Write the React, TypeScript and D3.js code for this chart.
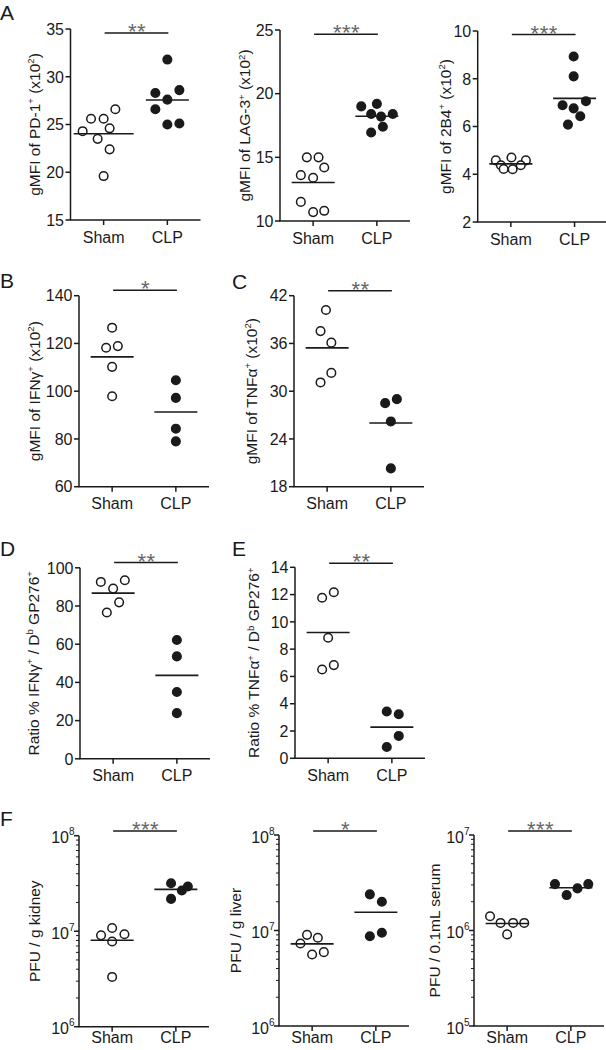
import React from 'react';
import * as d3 from 'd3';

const GROUPS = ['Sham', 'CLP'];

// ---------- data ----------
const pd1Sham = [25.6, 25.6, 26.6, 24.3, 23.5, 24.6, 22.4, 19.6];
const pd1Clp = [31.8, 28.3, 28.6, 27.6, 26.6, 25.0, 25.1];
const lag3Sham = [15.0, 15.0, 13.6, 13.4, 14.2, 11.5, 10.7, 10.8];
const lag3Clp = [19.0, 19.2, 18.4, 18.2, 18.4, 16.95, 17.4];
const b4Sham = [4.58, 4.7, 4.58, 4.375, 4.21, 4.375, 4.22];
const b4Clp = [8.93, 8.1, 6.89, 6.76, 7.06, 6.43, 6.08];
const ifngSham = [126.6, 118.2, 118.9, 110.2, 97.9];
const ifngClp = [104.6, 97.2, 84.3, 79.0];
const tnfSham = [40.2, 37.55, 36.1, 32.3, 31.1];
const tnfClp = [28.5, 29.0, 26.2, 20.3];
const ratioIfnSham = [92.6, 89.1, 93.5, 76.6, 81.9];
const ratioIfnClp = [62.2, 53.6, 35.0, 23.9];
const ratioTnfSham = [11.77, 12.17, 8.84, 6.51, 6.83];
const ratioTnfClp = [3.43, 3.23, 1.64, 0.83];
const kidneySham = [9.05e6, 1.08e7, 9.3e6, 7.8e6, 3.32e6];
const kidneyClp = [3.18e7, 2.18e7, 2.67e7, 2.94e7];
const liverSham = [7.3e6, 9.0e6, 8.4e6, 5.6e6, 5.93e6];
const liverClp = [2.39e7, 2.0e7, 8.7e6, 9.46e6];
const serumSham = [1.41e6, 1.2e6, 1.2e6, 1.2e6, 0.91e6];
const serumClp = [3.06e6, 2.35e6, 2.76e6, 3.06e6];

// horizontal scatter of the dots (in dot-step units)
const pd1JitSham = [-2.1, 0, 1.95, -3.5, -1, 1, 1, 0];
const pd1JitClp = [0, -2, 2, 0, -2, 0, 2];
const lag3JitSham = [-1.05, 0.9, -2.05, 0, 1.85, -2.05, 0, 1.85];
const lag3JitClp = [-2.6, 0, -0.95, 0.7, 2.65, -0.95, 1];
const b4JitSham = [-2.5, 0.1, 2.5, -1.65, 0.3, 1.65, -1.2];
const b4JitClp = [-0.15, -0.15, -2, -0.15, 1.9, 0.95, -1.1];
const ifngJitSham = [0, -1, 0.95, 0, 0];
const ifngJitClp = [0, 0, 0, 0];
const tnfJitSham = [-0.2, -1.1, 0.7, 0.7, -1.1];
const tnfJitClp = [-0.95, 1, 0, 0];
const ratioIfnJitSham = [-2.05, 0, 1.95, -1.05, 1];
const ratioIfnJitClp = [0, 0, 0, 0];
const ratioTnfJitSham = [-1, 0.95, 0, -1, 0.95];
const ratioTnfJitClp = [-0.85, 1.15, 1.15, -0.85];
const kidneyJitSham = [-1.85, 0, 2.05, 0, 0];
const kidneyJitClp = [-0.8, -0.8, 1, 2];
const liverJitSham = [-1.95, -0.85, 0.95, 0, 1.95];
const liverJitClp = [-1, 1, -1, 1];
const serumJitSham = [-2.85, -1.1, 1, 2.85, 0];
const serumJitClp = [-2.65, -0.7, 1.1, 2.9];

// tick values
const pd1Ticks = [15, 20, 25, 30, 35];
const lag3Ticks = [10, 15, 20, 25];
const b4Ticks = [2, 4, 6, 8, 10];
const ifngTicks = [60, 80, 100, 120, 140];
const tnfTicks = [18, 24, 30, 36, 42];
const ratioIfnTicks = [0, 20, 40, 60, 80, 100];
const ratioTnfTicks = [0, 2, 4, 6, 8, 10, 12, 14];

const stars = ['**', '***', '***', '*', '**', '**', '**', '***', '*', '***'];

const yLabels = [
  'gMFI of PD-1^{+} (x10^{2})',
  'gMFI of LAG-3^{+} (x10^{2})',
  'gMFI of 2B4^{+} (x10^{2})',
  'gMFI of IFNγ^{+} (x10^{2})',
  'gMFI of TNFα^{+} (x10^{2})',
  'Ratio % IFNγ^{+} / D^{b} GP276^{+}',
  'Ratio % TNFα^{+} / D^{b} GP276^{+}',
  'PFU / g kidney',
  'PFU / g liver',
  'PFU / 0.1mL serum',
];

// ---------- layout ----------
const PW = 130;
const PH = 191;
const DOT_STEP = 6;
const R = 4.3;
const FONT = '"Liberation Sans", Arial, Helvetica, sans-serif';
const TICK_FS = 16;
const LABEL_FS = 15.5;

type Panel = {
  x0: number; y0: number; domain: [number, number]; ticks?: number[]; log?: boolean;
  sham: number[]; clp: number[]; js: number[]; jc: number[];
  label: string; labelX: number; star: string; sigDy: number; shamHW?: number; xlabDy?: number;
};

const panels: Panel[] = [
  { x0: 70.5, y0: 29, domain: [15, 35], ticks: pd1Ticks, sham: pd1Sham, clp: pd1Clp, js: pd1JitSham, jc: pd1JitClp, label: yLabels[0], labelX: 34, star: stars[0], sigDy: 4, shamHW: 30 },
  { x0: 280, y0: 30, domain: [10, 25], ticks: lag3Ticks, sham: lag3Sham, clp: lag3Clp, js: lag3JitSham, jc: lag3JitClp, label: yLabels[1], labelX: 244.5, star: stars[1], sigDy: 4.3 },
  { x0: 477.7, y0: 31, domain: [2, 10], ticks: b4Ticks, sham: b4Sham, clp: b4Clp, js: b4JitSham, jc: b4JitClp, label: yLabels[2], labelX: 445, star: stars[2], sigDy: 3.5 },
  { x0: 79, y0: 295.7, domain: [60, 140], ticks: ifngTicks, sham: ifngSham, clp: ifngClp, js: ifngJitSham, jc: ifngJitClp, label: yLabels[3], labelX: 34, star: stars[3], sigDy: -5.5 },
  { x0: 294, y0: 295.7, domain: [18, 42], ticks: tnfTicks, sham: tnfSham, clp: tnfClp, js: tnfJitSham, jc: tnfJitClp, label: yLabels[4], labelX: 251, star: stars[4], sigDy: -5 },
  { x0: 80, y0: 567.8, domain: [0, 100], ticks: ratioIfnTicks, sham: ratioIfnSham, clp: ratioIfnClp, js: ratioIfnJitSham, jc: ratioIfnJitClp, label: yLabels[5], labelX: 33, star: stars[5], sigDy: -5.3 },
  { x0: 295, y0: 567.3, domain: [0, 14], ticks: ratioTnfTicks, sham: ratioTnfSham, clp: ratioTnfClp, js: ratioTnfJitSham, jc: ratioTnfJitClp, label: yLabels[6], labelX: 253.5, star: stars[6], sigDy: -4 },
  { x0: 79, y0: 835.7, domain: [1e6, 1e8], log: true, sham: kidneySham, clp: kidneyClp, js: kidneyJitSham, jc: kidneyJitClp, label: yLabels[7], labelX: 34, star: stars[7], sigDy: -4.7, xlabDy: 16.5 },
  { x0: 279, y0: 835, domain: [1e6, 1e8], log: true, sham: liverSham, clp: liverClp, js: liverJitSham, jc: liverJitClp, label: yLabels[8], labelX: 235.5, star: stars[8], sigDy: -4, xlabDy: 17 },
  { x0: 474, y0: 835, domain: [1e5, 1e7], log: true, sham: serumSham, clp: serumClp, js: serumJitSham, jc: serumJitClp, label: yLabels[9], labelX: 434.5, star: stars[9], sigDy: -4, xlabDy: 17 },
];

const letters = [
  { t: 'A', x: 0, y: 20 },
  { t: 'B', x: 0, y: 288 },
  { t: 'C', x: 232, y: 289 },
  { t: 'D', x: 0, y: 556 },
  { t: 'E', x: 232, y: 556 },
  { t: 'F', x: 0, y: 826 },
];

function parseLabel(s: string) {
  const segs: { t: string; sup: boolean }[] = [];
  const re = /\^\{([^}]*)\}/g;
  let last = 0;
  let m: RegExpExecArray | null;
  while ((m = re.exec(s))) {
    if (m.index > last) segs.push({ t: s.slice(last, m.index), sup: false });
    segs.push({ t: m[1], sup: true });
    last = m.index + m[0].length;
  }
  if (last < s.length) segs.push({ t: s.slice(last), sup: false });
  return segs;
}

const INK = '#1a1a1a';

function PanelView({ p }: { p: Panel }) {
  const x = d3.scalePoint<string>().domain(GROUPS).range([p.x0, p.x0 + PW]).padding(0.52);
  const yb = p.y0 + PH;
  const y: any = p.log
    ? d3.scaleLog().domain(p.domain).range([yb, p.y0])
    : d3.scaleLinear().domain(p.domain).range([yb, p.y0]);
  const segs = parseLabel(p.label);
  const cy = p.y0 + PH / 2;
  const xs = x('Sham')!;
  const xc = x('CLP')!;
  const sigY = p.y0 + p.sigDy;

  const majors: number[] = p.log
    ? d3.range(Math.log10(p.domain[0]), Math.log10(p.domain[1]) + 1).map((e) => Math.pow(10, e))
    : p.ticks!;
  const minors: number[] = [];
  if (p.log) {
    for (let e = Math.log10(p.domain[0]); e < Math.log10(p.domain[1]); e++) {
      for (let k = 2; k <= 9; k++) minors.push(k * Math.pow(10, e));
    }
  }

  const groups = [
    { g: 'Sham', vals: p.sham, jit: p.js, open: true, hw: p.shamHW ?? 21.5 },
    { g: 'CLP', vals: p.clp, jit: p.jc, open: false, hw: 21.5 },
  ];

  return (
    <g>
      {/* axes */}
      <line x1={p.x0} x2={p.x0} y1={p.y0} y2={yb} stroke={INK} strokeWidth={1.5} />
      <line x1={p.x0 - 0.75} x2={p.x0 + PW} y1={yb} y2={yb} stroke={INK} strokeWidth={1.5} />
      {majors.map((v) => (
        <g key={'t' + v}>
          <line x1={p.x0 - 5} x2={p.x0} y1={y(v)} y2={y(v)} stroke={INK} strokeWidth={1.5} />
          {p.log ? (
            <text x={p.x0 - 4.5} y={y(v) + 7.5} textAnchor="end" fontSize={TICK_FS} fill={INK}>
              10<tspan dy={-8} fontSize={10}>{Math.round(Math.log10(v))}</tspan>
            </text>
          ) : (
            <text x={p.x0 - 6.5} y={y(v)} dy="0.36em" textAnchor="end" fontSize={TICK_FS} fill={INK}>{v}</text>
          )}
        </g>
      ))}
      {minors.map((v) => (
        <line key={'m' + v} x1={p.x0 - 3} x2={p.x0} y1={y(v)} y2={y(v)} stroke={INK} strokeWidth={1} />
      ))}
      {GROUPS.map((g) => (
        <g key={g}>
          <line x1={x(g)} x2={x(g)} y1={yb} y2={yb + 5} stroke={INK} strokeWidth={1.5} />
          <text x={x(g)} y={yb + (p.xlabDy ?? 22.5)} textAnchor="middle" fontSize={TICK_FS} fill={INK}>{g}</text>
        </g>
      ))}
      {/* y label */}
      <text transform={`translate(${p.labelX},${cy}) rotate(-90)`} textAnchor="middle" fontSize={LABEL_FS} fill={INK}>
        {segs.map((s, i) => {
          const prevSup = i > 0 && segs[i - 1].sup;
          const first = i === 0;
          if (s.sup) return <tspan key={i} dy={-5.5} fontSize={9.5}>{s.t}</tspan>;
          return <tspan key={i} dy={first ? '0.36em' : prevSup ? 5.5 : 0}>{s.t}</tspan>;
        })}
      </text>
      {/* significance */}
      <line x1={xs + 1} x2={xc + 1} y1={sigY} y2={sigY} stroke={INK} strokeWidth={1.5} />
      <text x={(xs + xc) / 2 + 1.5} y={sigY + 6} textAnchor="middle" fontSize={22} fill="#666" letterSpacing={0.5}>{p.star}</text>
      {/* dots */}
      {groups.map((gr) => (
        <g key={gr.g}>
          {gr.vals.map((v, i) => (
            <circle key={i} cx={x(gr.g)! + gr.jit[i] * DOT_STEP} cy={y(v)} r={R}
              fill={gr.open ? '#fff' : INK} stroke={INK} strokeWidth={1.5} />
          ))}
          <line x1={x(gr.g)! - gr.hw} x2={x(gr.g)! + gr.hw} y1={y(d3.mean(gr.vals)!)} y2={y(d3.mean(gr.vals)!)}
            stroke={INK} strokeWidth={1.6} />
        </g>
      ))}
    </g>
  );
}

export default function App() {
  return (
    <svg width={606} height={1050} style={{ position: 'absolute', left: 0, top: 0, background: '#fff' }}
      fontFamily={FONT}>
      <rect x={0} y={0} width={606} height={1050} fill="#fff" />
      {letters.map((l) => (
        <text key={l.t} x={l.x} y={l.y} fontSize={21} fill={INK}>{l.t}</text>
      ))}
      {panels.map((p, i) => <PanelView key={i} p={p} />)}
    </svg>
  );
}
